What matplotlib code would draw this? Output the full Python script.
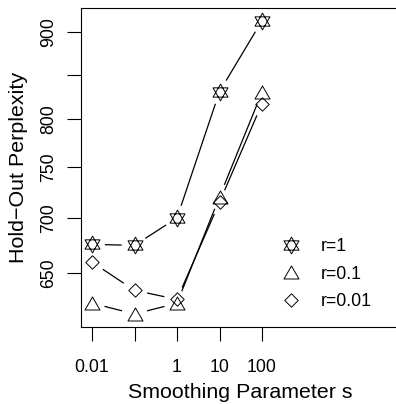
import numpy as np
import matplotlib.pyplot as plt
from matplotlib.path import Path
from matplotlib.lines import Line2D

# data
s = [0.01, 0.1, 1, 10, 100]
perp_r1 = [675.7, 674.8, 700.3, 830.7, 914.3]
perp_r01 = [624.1, 615.0, 624.0, 720.6, 830.0]
perp_r001 = [659.7, 635.0, 627.3, 715.4, 817.4]
series_labels = ["r=1", "r=0.1", "r=0.01"]
xticks = [0.01, 0.1, 1, 10, 100]
xticklabels = ["0.01", "", "1", "10", "100"]
yticks = [650, 700, 750, 800, 850, 900]
yticklabels = ["650", "700", "750", "800", "", "900"]

plt.rcParams['font.family'] = ['Liberation Sans', 'DejaVu Sans']

PX = 0.72  # points per pixel at dpi 100


def marker(polys):
    verts, codes = [], []
    for poly in polys:
        verts += poly + [poly[0]]
        codes += [Path.MOVETO] + [Path.LINETO] * (len(poly) - 1) + [Path.CLOSEPOLY]
    path = Path(verts, codes)
    size = 2 * np.abs(np.array(verts)).max() * PX
    return path, size


star, star_ms = marker([
    [(0, 8.35), (-7.5, -4.65), (7.5, -4.65)],
    [(0, -8.35), (-7.5, 4.65), (7.5, 4.65)],
])
tri, tri_ms = marker([[(0, 6.5), (-7.5, -6.5), (7.5, -6.5)]])
dia, dia_ms = marker([[(0, 6.7), (6.7, 0), (0, -6.7), (-6.7, 0)]])

fig = plt.figure(figsize=(3.96, 4.04), dpi=100)
ax = fig.add_axes([81 / 396, 1 - 327 / 404, 319 / 396, 319 / 404])
ax.set_xscale('log')
ax.set_yscale('log')
ax.set_xlim(10 ** -2.259, 10 ** 5.247)
ax.set_ylim(604.3, 930.1)

gap = 13.5  # px gap around points, like R type="b"
series = [(perp_r1, star, star_ms), (perp_r01, tri, tri_ms), (perp_r001, dia, dia_ms)]
handles = []
for vals, mk, ms in series:
    pts = ax.transData.transform(np.column_stack([s, vals]))
    for p0, p1 in zip(pts[:-1], pts[1:]):
        d = p1 - p0
        L = np.hypot(*d)
        if L <= 2 * gap:
            continue
        u = d / L
        seg = ax.transData.inverted().transform([p0 + u * gap, p1 - u * gap])
        ax.plot(seg[:, 0], seg[:, 1], color='black', lw=0.9)
    ax.plot(s, vals, linestyle='none', marker=mk, markersize=ms,
            mfc='none', mec='black', mew=0.7)
    handles.append(Line2D([], [], linestyle='none', marker=mk, markersize=ms,
                          mfc='none', mec='black', mew=0.7))

ax.minorticks_off()
ax.set_xticks(xticks)
ax.set_xticklabels(xticklabels)
ax.set_yticks(yticks)
ax.set_yticklabels(yticklabels, rotation=90, va='center')
ax.minorticks_off()
ax.tick_params(direction='out', length=10, width=0.8, labelsize=12.7)
ax.tick_params(axis='x', pad=13)
ax.tick_params(axis='y', pad=7.4)
for sp in ax.spines.values():
    sp.set_linewidth(0.8)

ax.set_xlabel('Smoothing Parameter s', fontsize=15.4)
ax.xaxis.set_label_coords(0.5, -0.1746)
ax.set_ylabel('Hold\u2212Out Perplexity', fontsize=15.4)
ax.yaxis.set_label_coords(-0.165, 0.5)

ax.legend(handles, series_labels, loc='upper left',
          bbox_to_anchor=(281.7 / 396, 1 - 238 / 404), bbox_transform=fig.transFigure,
          frameon=False, handlelength=1.0, handletextpad=1.2, labelspacing=0.6,
          borderpad=0, borderaxespad=0, fontsize=12.7, numpoints=1)

fig.savefig('out.png', dpi=100)
